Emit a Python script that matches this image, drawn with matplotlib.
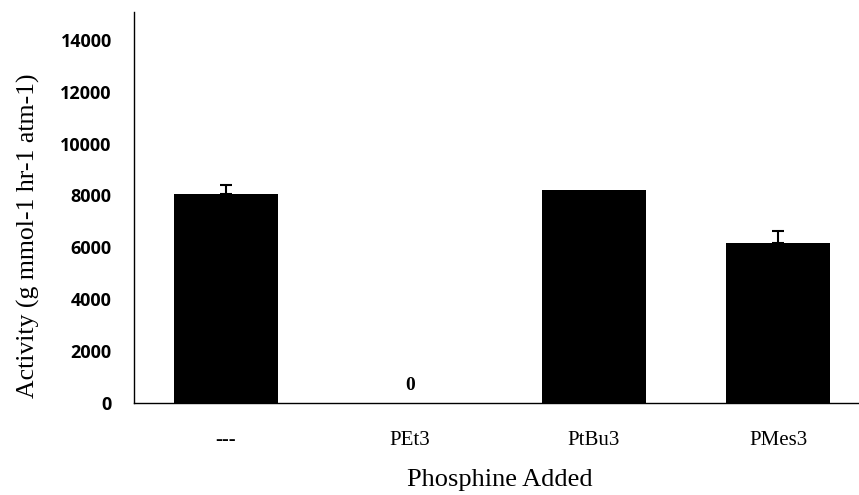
import numpy as np
import matplotlib
matplotlib.use("Agg")
import matplotlib.pyplot as plt

categories = ['---', 'PEt3', 'PtBu3', 'PMes3']
activity = [8060, 0, 8215, 6180]
errors = [340, 0, 0, 450]
y_ticks = [0, 2000, 4000, 6000, 8000, 10000, 12000, 14000]

fig = plt.figure(figsize=(8.59, 4.95), dpi=100)
ax = fig.add_axes([0.156, 0.186, 0.844, 0.790])

x = np.arange(len(categories))
ax.bar(x, activity, width=0.565, color='black', zorder=2)
# only draw the upper cap where there is an error
for xi, v, e in zip(x, activity, errors):
    if e > 0:
        ax.errorbar(xi, v, yerr=[[0], [e]], fmt='none', ecolor='black',
                    elinewidth=1.5, capsize=4, capthick=1.5, zorder=3)

ax.text(x[1], 330, '0', ha='center', va='bottom', fontsize=14,
        fontweight='bold', family='Liberation Serif')

ax.set_xlim(-0.5, 3.44)
ax.set_ylim(0, 15080)
ax.set_yticks(y_ticks)
ax.set_yticklabels([str(t) for t in y_ticks], fontsize=13, fontweight='bold',
                   family='Open Sans')
ax.set_xticks(x)
ax.set_xticklabels(categories, fontsize=15, family='Liberation Serif')
ax.tick_params(axis='y', length=0, pad=16)
ax.tick_params(axis='x', length=0, pad=20)

for s in ['top', 'right']:
    ax.spines[s].set_visible(False)
ax.spines['left'].set_linewidth(1)
ax.spines['bottom'].set_linewidth(1)

ax.set_ylabel('Activity (g mmol-1 hr-1 atm-1)', fontsize=18.5,
              family='Liberation Serif')
ax.yaxis.set_label_coords(-0.13, 0.427)
ax.set_xlabel('Phosphine Added', fontsize=19, family='Liberation Serif')
ax.xaxis.set_label_coords(0.505, -0.168)

fig.savefig('out.png', dpi=100)
